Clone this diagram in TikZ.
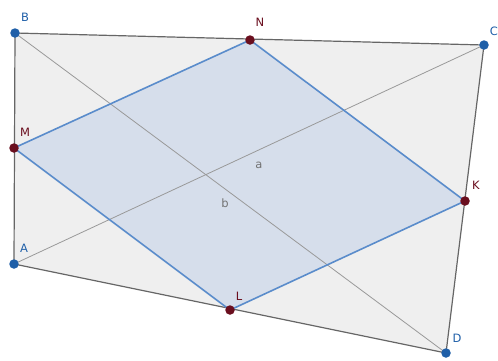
\documentclass[tikz,border=0pt]{standalone}
\usepackage{fontspec}
\setmainfont{DejaVu Sans}
\begin{document}
\begin{tikzpicture}[x=1pt,y=-1pt,
  vtx/.style={circle,fill=#1,inner sep=0pt,minimum size=9.5pt},
  lbl/.style={font=\fontsize{11.5}{13}\selectfont,inner sep=0pt},
  side/.style={draw=black!60,line width=1.2pt},
  diag/.style={draw=black!40,line width=0.8pt}]
\definecolor{ptblue}{HTML}{1F5FA8}
\definecolor{ptred}{HTML}{6A0E1E}
\definecolor{quadfill}{HTML}{EFEFEF}
\definecolor{parfill}{HTML}{D6DEEB}
\definecolor{paredge}{HTML}{5A8CCB}
\useasboundingbox (0,0) rectangle (498,360);
\coordinate (B) at (15,33);
\coordinate (C) at (484,45);
\coordinate (D) at (446,353);
\coordinate (A) at (14,264);
\coordinate (N) at (250,40);
\coordinate (M) at (14,148);
\coordinate (K) at (465,201);
\coordinate (L) at (230,310);
\fill[quadfill] (A) -- (B) -- (C) -- (D) -- cycle;
\fill[parfill] (M) -- (N) -- (K) -- (L) -- cycle;
\draw[diag] (B) -- (D);
\draw[diag] (A) -- (C);
\draw[side] (A) -- (B) -- (C) -- (D) -- cycle;
\draw[draw=paredge,line width=1.6pt] (M) -- (N) -- (K) -- (L) -- cycle;
\node[vtx=ptblue] (pB) at (B) {};
\node[vtx=ptblue] (pC) at (C) {};
\node[vtx=ptblue] (pD) at (D) {};
\node[vtx=ptblue] (pA) at (A) {};
\node[vtx=ptred] (pN) at (N) {};
\node[vtx=ptred] (pM) at (M) {};
\node[vtx=ptred] (pK) at (K) {};
\node[vtx=ptred] (pL) at (L) {};
\node[lbl,text=ptblue] (tB) at (25,17) {B};
\node[lbl,text=ptblue] (tC) at (494,31) {C};
\node[lbl,text=ptblue] (tD) at (457,338) {D};
\node[lbl,text=ptblue] (tA) at (24,248) {A};
\node[lbl,text=ptred] (tN) at (260,22) {N};
\node[lbl,text=ptred] (tM) at (25,132) {M};
\node[lbl,text=ptred] (tK) at (476,185) {K};
\node[lbl,text=ptred] (tL) at (239,296) {L};
\node[lbl,text=black!55] (ta) at (259,165) {a};
\node[lbl,text=black!55] (tb) at (225,203) {b};
\end{tikzpicture}
\end{document}
